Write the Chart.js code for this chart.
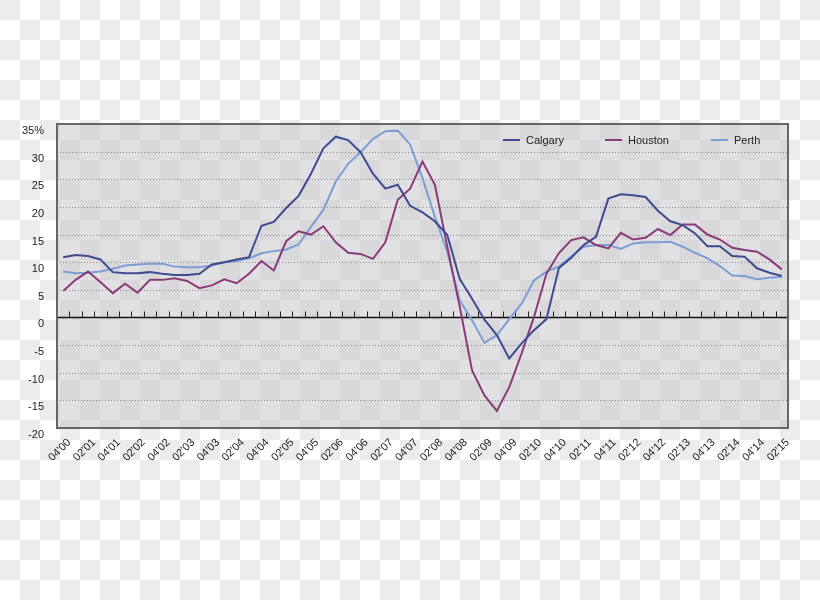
<!DOCTYPE html>
<html>
<head>
<meta charset="utf-8">
<title>Calgary, Houston, Perth</title>
<script src="https://cdn.jsdelivr.net/npm/chart.js@4"></script>
<style>
    body {
        margin: 0;
        background: repeating-conic-gradient(#fff 0 25%, #ececec 0 50%) 0 0 / 40px 40px;
    }
    #wrap { position: relative; width: 820px; height: 600px; }
    .legend-item {
        position: absolute;
        top: 133px;
        height: 14px;
        line-height: 14px;
        font: 11px "Liberation Sans", Arial, sans-serif;
        color: #222;
        display: flex;
        align-items: center;
        white-space: nowrap;
    }
    .legend-item .swatch { display: inline-block; width: 17px; height: 2px; margin-right: 6px; }
</style>
</head>
<body>
<div id="wrap">
    <canvas id="chart" width="820" height="600"></canvas>
    <div class="legend-item" style="left:503px"><span class="swatch" style="background:#3f4b91"></span>Calgary</div>
    <div class="legend-item" style="left:605px"><span class="swatch" style="background:#8a3a76"></span>Houston</div>
    <div class="legend-item" style="left:711px"><span class="swatch" style="background:#7d9dd5"></span>Perth</div>
</div>
<script>
const quarters = [
    "04'00",
    "01'01", "02'01", "03'01", "04'01",
    "01'02", "02'02", "03'02", "04'02",
    "01'03", "02'03", "03'03", "04'03",
    "01'04", "02'04", "03'04", "04'04",
    "01'05", "02'05", "03'05", "04'05",
    "01'06", "02'06", "03'06", "04'06",
    "01'07", "02'07", "03'07", "04'07",
    "01'08", "02'08", "03'08", "04'08",
    "01'09", "02'09", "03'09", "04'09",
    "01'10", "02'10", "03'10", "04'10",
    "01'11", "02'11", "03'11", "04'11",
    "01'12", "02'12", "03'12", "04'12",
    "01'13", "02'13", "03'13", "04'13",
    "01'14", "02'14", "03'14", "04'14",
    "01'15", "02'15"
];

const calgary = [
    10.9, 11.3, 11.1, 10.5, 8.2, 8.0, 8.0, 8.2, 7.9, 7.7,
    7.7, 7.9, 9.6, 10.0, 10.5, 10.9, 16.6, 17.3, 19.8, 22.0,
    26.0, 30.6, 32.7, 32.1, 29.9, 26.0, 23.3, 24.0, 20.2, 19.0,
    17.4, 14.9, 7.0, 3.4, -0.4, -3.2, -7.4, -4.7, -2.3, -0.3,
    8.9, 10.8, 13.1, 14.6, 21.5, 22.3, 22.1, 21.8, 19.3, 17.4,
    16.7, 15.2, 12.9, 12.9, 11.1, 11.0, 8.9, 8.1, 7.5
];

const houston = [
    4.8, 6.8, 8.3, 6.4, 4.4, 6.1, 4.5, 6.8, 6.8, 7.1,
    6.6, 5.3, 5.8, 6.9, 6.2, 7.9, 10.2, 8.5, 13.8, 15.6,
    15.0, 16.5, 13.6, 11.7, 11.5, 10.6, 13.6, 21.3, 23.3, 28.2,
    24.0, 12.8, 2.0, -9.6, -14.1, -16.9, -12.6, -6.5, 0.1, 7.9,
    11.6, 14.0, 14.5, 13.1, 12.5, 15.3, 14.1, 14.4, 16.0, 14.9,
    16.8, 16.8, 15.0, 14.1, 12.6, 12.2, 11.9, 10.5, 8.7
];

const perth = [
    8.3, 8.0, 8.1, 8.3, 8.8, 9.4, 9.6, 9.7, 9.7, 9.2,
    9.1, 9.1, 9.4, 10.0, 10.2, 10.7, 11.6, 12.0, 12.3, 13.2,
    16.4, 19.5, 24.6, 27.8, 29.9, 32.3, 33.7, 33.8, 31.3, 25.2,
    18.2, 11.9, 3.1, -0.5, -4.6, -3.2, -0.3, 2.5, 6.7, 8.3,
    9.2, 11.0, 12.8, 13.1, 13.1, 12.4, 13.4, 13.6, 13.6, 13.7,
    12.8, 11.7, 10.7, 9.3, 7.6, 7.5, 6.9, 7.2, 7.3
];

const yMin = -20;
const yMax = 35;
const yStep = 5;

// grey plot box, dotted grid, zero line with quarter ticks
const plotBackdrop = {
    id: "plotBackdrop",
    beforeDatasetsDraw(chart) {
        const { ctx, chartArea: a, scales: { x, y } } = chart;
        ctx.save();
        ctx.fillStyle = "rgba(200,200,204,0.55)";
        ctx.fillRect(a.left, a.top, a.width, a.height);

        ctx.strokeStyle = "#8c8c8c";
        ctx.lineWidth = 1;
        ctx.setLineDash([1, 2]);
        y.ticks.forEach(t => {
            if (t.value === 0 || t.value === yMin || t.value === yMax) return;
            const py = Math.round(y.getPixelForValue(t.value)) + 0.5;
            ctx.beginPath();
            ctx.moveTo(a.left, py);
            ctx.lineTo(a.right, py);
            ctx.stroke();
        });
        ctx.setLineDash([]);

        const y0 = y.getPixelForValue(0);
        ctx.strokeStyle = "#111";
        ctx.lineWidth = 1.5;
        ctx.beginPath();
        ctx.moveTo(a.left, y0);
        ctx.lineTo(a.right, y0);
        ctx.stroke();

        ctx.lineWidth = 1;
        ctx.strokeStyle = "#222";
        for (let i = 0; i < quarters.length - 1; i++) {
            const bx = Math.round((x.getPixelForValue(i) + x.getPixelForValue(i + 1)) / 2) + 0.5;
            ctx.beginPath();
            ctx.moveTo(bx, y0 - 6);
            ctx.lineTo(bx, y0);
            ctx.stroke();
        }

        ctx.strokeStyle = "#666";
        ctx.lineWidth = 2;
        ctx.strokeRect(a.left, a.top, a.width, a.height);
        ctx.restore();
    }
};

Chart.defaults.font.family = '"Liberation Sans", Arial, sans-serif';
Chart.defaults.font.size = 11;
Chart.defaults.color = "#222";

const line = (label, data, color) => ({
    label: label,
    data: data,
    borderColor: color,
    backgroundColor: color,
    borderWidth: 2,
    pointRadius: 0,
    tension: 0,
    fill: false
});

new Chart(document.getElementById("chart"), {
    type: "line",
    data: {
        labels: quarters,
        datasets: [
            line("Calgary", calgary, "#3f4b91"),
            line("Houston", houston, "#8a3a76"),
            line("Perth", perth, "#7d9dd5")
        ]
    },
    options: {
        responsive: false,
        animation: false,
        layout: { padding: { top: 124, right: 32, left: 0, bottom: 0 } },
        plugins: {
            legend: { display: false },
            tooltip: { enabled: false }
        },
        scales: {
            x: {
                type: "category",
                offset: true,
                grid: { display: false, drawTicks: false },
                border: { display: false },
                ticks: {
                    autoSkip: false,
                    minRotation: 45,
                    maxRotation: 45,
                    padding: 8,
                    labelOffset: 6,
                    callback: function(v, i) { return i % 2 === 0 ? this.getLabelForValue(v) : ""; }
                },
                afterFit: s => { s.height = 172; }
            },
            y: {
                min: yMin,
                max: yMax,
                grid: { display: false, drawTicks: false },
                border: { display: false },
                ticks: {
                    stepSize: yStep,
                    padding: 13,
                    labelOffset: 7,
                    callback: v => v === yMax ? v + "%" : v
                },
                afterFit: s => { s.width = 57; }
            }
        }
    },
    plugins: [plotBackdrop]
});
</script>
</body>
</html>
